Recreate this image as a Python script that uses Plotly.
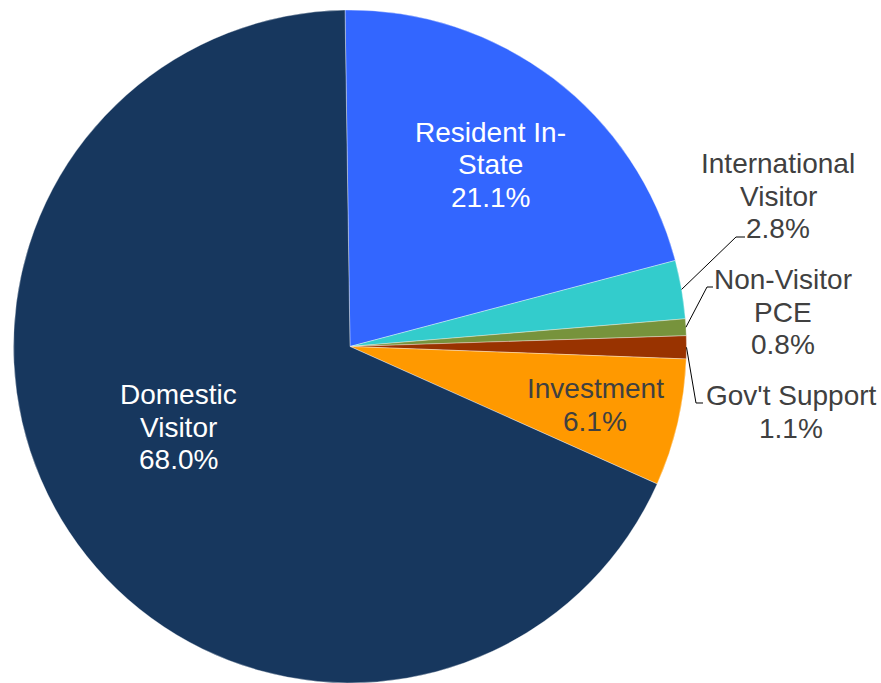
import plotly.graph_objects as go
import numpy as np

# Slice data, clockwise from 12 o'clock
categories = ["Resident In-State", "International Visitor", "Non-Visitor PCE",
              "Gov't Support", "Investment", "Domestic Visitor"]
label_lines = [["Resident In-", "State"], ["International", "Visitor"], ["Non-Visitor", "PCE"],
               ["Gov't Support"], ["Investment"], ["Domestic", "Visitor"]]
shares = [21.1, 2.8, 0.8, 1.1, 6.1, 68.0]

colors = ["#3366FF", "#33CCCC", "#77933C", "#993300", "#FF9900", "#17375E"]
text_colors = ["white", "#404040", "#404040", "#404040", "#404040", "white"]

W, H = 881, 683
TOP = 10
ROTATION = -0.85
CX = 350.0
CY = TOP + (H - TOP) / 2.0
R = (H - TOP) / 2.0
LINE_GAP = 32.5
FONT_SIZE = 28


def to_paper(px, py):
    return px / W, (H - py) / (H - TOP)


# label block centres (pixels) and leader-line elbows for the small slices
label_pos = {
    "Resident In-State": (490, 165),
    "International Visitor": (778, 196),
    "Non-Visitor PCE": (783, 312),
    "Gov't Support": (791, 412),
    "Investment": (595, 405),
    "Domestic Visitor": (178, 427),
}
leaders = {
    "International Visitor": [(736, 237), (745, 237)],
    "Non-Visitor PCE": [(707, 287), (713, 287)],
    "Gov't Support": [(696, 403), (703, 403)],
}

fig = go.Figure(go.Pie(
    labels=categories,
    values=shares,
    sort=False,
    direction="clockwise",
    rotation=ROTATION,
    marker=dict(colors=colors, line=dict(color="rgba(255,255,255,0.6)", width=0.6)),
    textinfo="none",
    hoverinfo="label+percent",
    domain=dict(x=[0, 2 * CX / W], y=[0, 1]),
    showlegend=False,
))

# mid-angle of each slice (degrees clockwise from 12 o'clock)
vals = np.array(shares)
cum = np.cumsum(vals) / vals.sum()
start = np.concatenate([[0.0], cum[:-1]])
mid_deg = (start + cum) / 2 * 360 + ROTATION

annotations = []
shapes = []
for i, cat in enumerate(categories):
    lines = label_lines[i] + [f"{shares[i]:.1f}%"]
    cx, cy = label_pos[cat]
    n = len(lines)
    for k, line in enumerate(lines):
        x, y = to_paper(cx, cy + (k - (n - 1) / 2) * LINE_GAP)
        annotations.append(dict(
            x=x, y=y, xref="paper", yref="paper",
            text=line,
            showarrow=False, xanchor="center", yanchor="middle", align="center",
            font=dict(family="Liberation Sans, Arial, sans-serif", size=FONT_SIZE,
                      color=text_colors[i]),
        ))
    if cat in leaders:
        a = np.deg2rad(mid_deg[i])
        pts = [(CX + R * np.sin(a), CY - R * np.cos(a))] + leaders[cat]
        ppts = [to_paper(*p) for p in pts]
        path = "M " + " L ".join(f"{px:.5f},{py:.5f}" for px, py in ppts)
        shapes.append(dict(type="path", path=path, xref="paper", yref="paper",
                           line=dict(color="black", width=1)))

fig.update_layout(
    width=W, height=H,
    margin=dict(l=0, r=0, t=TOP, b=0),
    paper_bgcolor="white",
    plot_bgcolor="white",
    annotations=annotations,
    shapes=shapes,
)

fig.write_html("out.html")
